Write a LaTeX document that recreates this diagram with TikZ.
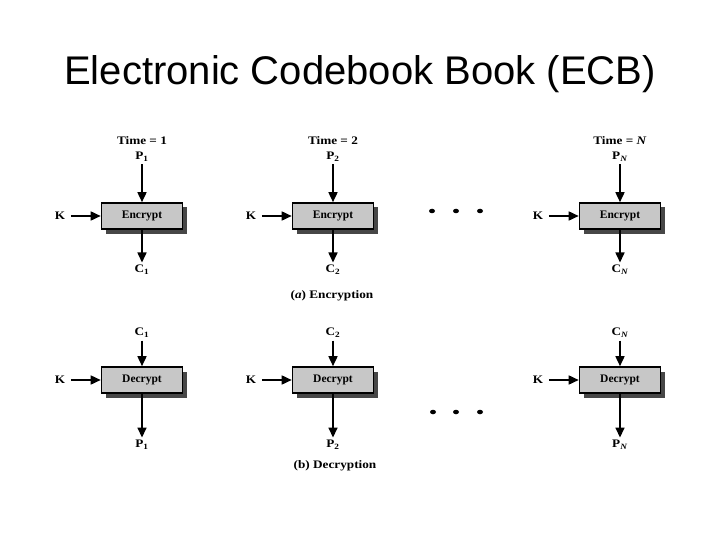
\documentclass[tikz,border=0pt]{standalone}
\usepackage{fontspec}
\setmainfont{Liberation Serif}
\newfontfamily\titlefont{Liberation Sans}
\newfontfamily\lblfont[FakeStretch=1.15]{Liberation Serif}
\usetikzlibrary{arrows.meta}
\usetikzlibrary{shadows}
\tikzset{
	every path/.style={line width=1.6pt},
	blk/.style={
		draw,
		rectangle,
		fill=black!22,
		minimum width=81pt,
		minimum height=26pt,
		font=\bfseries\fontsize{11.5}{13}\selectfont,
		drop shadow={shadow xshift=4.5pt, shadow yshift=-4.5pt, fill=black!72, opacity=1},
	},
	lbl/.style={
		font=\lblfont\bfseries\fontsize{11.5}{13}\selectfont,
		inner sep=2pt,
	},
	key/.style={
		font=\lblfont\bfseries\fontsize{11.5}{13}\selectfont,
		inner sep=5pt,
	},
	flow/.style={
		-{Triangle[width=9pt,length=10pt]}
	},
	dot/.style={
		ellipse,
		fill=black,
		inner sep=0pt,
		minimum width=6pt,
		minimum height=4.5pt,
	},
}
\usetikzlibrary{shapes.geometric}

\begin{document}
\begin{tikzpicture}[x=1pt,y=-1pt]
		\useasboundingbox (0,0) rectangle (720,540);

		\node[font=\titlefont\fontsize{40}{46}\selectfont, anchor=base] (title) at (360,85) {Electronic Codebook Book (ECB)};

		% (a) encryption
		\node[lbl]     (time1) at (142,141) {Time = 1};
		\node[lbl]     (pa1) at (142,157) {P\textsubscript{1}};
		\node[blk]     (enc1) at (142,216) {Encrypt};
		\node[key]     (ka1) at (60,216) {K};
		\node[lbl]     (ca1) at (142,270) {C\textsubscript{1}};
		\draw[flow]    (pa1) -- (enc1);
		\draw[flow]    (ka1) -- (enc1);
		\draw[flow]    (enc1) -- (ca1);

		\node[lbl]     (time2) at (333,141) {Time = 2};
		\node[lbl]     (pa2) at (333,157) {P\textsubscript{2}};
		\node[blk]     (enc2) at (333,216) {Encrypt};
		\node[key]     (ka2) at (251,216) {K};
		\node[lbl]     (ca2) at (333,270) {C\textsubscript{2}};
		\draw[flow]    (pa2) -- (enc2);
		\draw[flow]    (ka2) -- (enc2);
		\draw[flow]    (enc2) -- (ca2);

		\node[dot]     (da1) at (432,211) {};
		\node[dot]     (da2) at (456,211) {};
		\node[dot]     (da3) at (480,211) {};

		\node[lbl]     (timen) at (620,141) {Time = \textit{N}};
		\node[lbl]     (pan) at (620,157) {P\textsubscript{\textit{N}}};
		\node[blk]     (encn) at (620,216) {Encrypt};
		\node[key]     (kan) at (538,216) {K};
		\node[lbl]     (can) at (620,270) {C\textsubscript{\textit{N}}};
		\draw[flow]    (pan) -- (encn);
		\draw[flow]    (kan) -- (encn);
		\draw[flow]    (encn) -- (can);

		\node[lbl]     (capa) at (332,296) {(\textit{a}) Encryption};

		% (b) decryption
		\node[lbl]     (cb1) at (142,333) {C\textsubscript{1}};
		\node[blk]     (dec1) at (142,380) {Decrypt};
		\node[key]     (kb1) at (60,380) {K};
		\node[lbl]     (pb1) at (142,445) {P\textsubscript{1}};
		\draw[flow]    (cb1) -- (dec1);
		\draw[flow]    (kb1) -- (dec1);
		\draw[flow]    (dec1) -- (pb1);

		\node[lbl]     (cb2) at (333,333) {C\textsubscript{2}};
		\node[blk]     (dec2) at (333,380) {Decrypt};
		\node[key]     (kb2) at (251,380) {K};
		\node[lbl]     (pb2) at (333,445) {P\textsubscript{2}};
		\draw[flow]    (cb2) -- (dec2);
		\draw[flow]    (kb2) -- (dec2);
		\draw[flow]    (dec2) -- (pb2);

		\node[dot]     (db1) at (433,412) {};
		\node[dot]     (db2) at (456,412) {};
		\node[dot]     (db3) at (480,412) {};

		\node[lbl]     (cbn) at (620,333) {C\textsubscript{\textit{N}}};
		\node[blk]     (decn) at (620,380) {Decrypt};
		\node[key]     (kbn) at (538,380) {K};
		\node[lbl]     (pbn) at (620,445) {P\textsubscript{\textit{N}}};
		\draw[flow]    (cbn) -- (decn);
		\draw[flow]    (kbn) -- (decn);
		\draw[flow]    (decn) -- (pbn);

		\node[lbl]     (capb) at (335,466) {(b) Decryption};

	\end{tikzpicture}
\end{document}
